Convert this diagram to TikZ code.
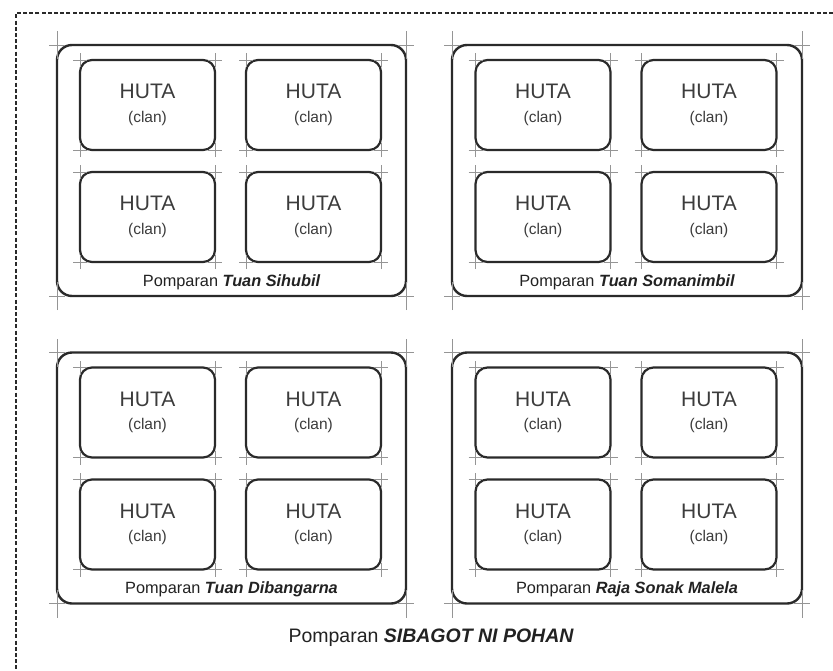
\documentclass[tikz,border=0pt]{standalone}
\usepackage{fontspec}
\setmainfont{Liberation Sans}
\definecolor{linec}{HTML}{2A2A2A}
\definecolor{crossc}{HTML}{959595}
\definecolor{txtc}{HTML}{3C3C3C}
\definecolor{lblc}{HTML}{222222}
\newcommand\mycrosses[3]{%
  \foreach \c in {north west,north east,south west,south east}{%
    \draw[crossmark] ([xshift=-#2pt]#1.\c) -- ([xshift=#2pt]#1.\c);
    \draw[crossmark] ([yshift=-#3pt]#1.\c) -- ([yshift=#3pt]#1.\c);
  }}
\begin{document}
\begin{tikzpicture}[x=1pt,y=-1pt,
  grp/.style={draw=linec, line width=2.4pt, rounded corners=15pt, minimum height=251pt, inner sep=0pt, outer sep=0pt},
  huta/.style={draw=linec, line width=2.2pt, rounded corners=12pt, minimum width=135pt, minimum height=90pt, inner sep=0pt, outer sep=0pt, align=center, text=txtc, font=\fontsize{21}{23.5}\selectfont},
  lbl/.style={inner sep=0pt, text=lblc, font=\fontsize{16.3}{18}\selectfont},
  crossmark/.style={draw=crossc, line width=0.9pt},
  frame/.style={draw=linec, line width=2.4pt, dash pattern=on 4pt off 2.2pt}]
\useasboundingbox (0,0) rectangle (833,670);
\fill[white] (0,0) rectangle (833,670);
\coordinate (fr) at (833,13);
\coordinate (fc) at (16,13);
\coordinate (fb) at (16,670);
\draw[frame] (fr) -- (fc) -- (fb);
\foreach \n/\cx/\cy/\w in {g1/231.5/170.5/349, g2/627/170.5/350, g3/231.5/478/349, g4/627/478/350}{
  \node[grp, minimum width=\w pt] (\n) at (\cx,\cy) {};
  \node[huta] (\n-a) at (\cx-84,\cy-65.5) {HUTA\\{\fontsize{15.5}{23.5}\selectfont (clan)}};
  \node[huta] (\n-b) at (\cx+82,\cy-65.5) {HUTA\\{\fontsize{15.5}{23.5}\selectfont (clan)}};
  \node[huta] (\n-c) at (\cx-84,\cy+46.5) {HUTA\\{\fontsize{15.5}{23.5}\selectfont (clan)}};
  \node[huta] (\n-d) at (\cx+82,\cy+46.5) {HUTA\\{\fontsize{15.5}{23.5}\selectfont (clan)}};
  \mycrosses{\n}{8}{14}
  \mycrosses{\n-a}{7}{7}
  \mycrosses{\n-b}{7}{7}
  \mycrosses{\n-c}{7}{7}
  \mycrosses{\n-d}{7}{7}
}
\node[lbl] (l1) at (231.5,282) {Pomparan {\bfseries\itshape Tuan Sihubil}};
\node[lbl] (l2) at (627,282) {Pomparan {\bfseries\itshape Tuan Somanimbil}};
\node[lbl] (l3) at (231.5,589.5) {Pomparan {\bfseries\itshape Tuan Dibangarna}};
\node[lbl] (l4) at (627,589.5) {Pomparan {\bfseries\itshape Raja Sonak Malela}};
\node[lbl, font=\fontsize{19.5}{22}\selectfont] (title) at (431,638) {Pomparan {\bfseries\itshape SIBAGOT NI POHAN}};
\end{tikzpicture}
\end{document}
